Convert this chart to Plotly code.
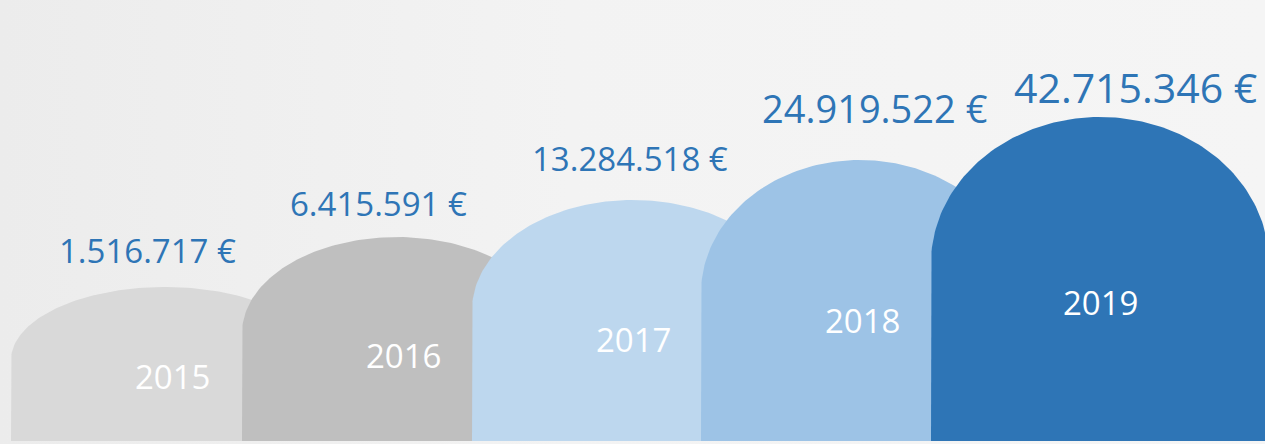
import numpy as np
import plotly.graph_objects as go

# data
years = ["2015", "2016", "2017", "2018", "2019"]
values = [1516717, 6415591, 13284518, 24919522, 42715346]

# look of each arch (pixel space, y grows downwards)
colors = ["#d9d9d9", "#bfbfbf", "#bdd7ee", "#9dc3e6", "#2e75b6"]
arch_left = [11, 242, 472, 701, 931]
arch_hw = [154, 155, 161, 159, 169]
arch_top = [287, 237, 200, 160, 117]
arch_vr = [73, 96, 110, 133, 146]
year_xy = [(172, 376), (403, 355), (633, 339), (862, 320), (1100, 302)]
value_xy = [(147, 250), (378, 203), (630, 158), (875, 108), (1135, 87)]
value_size = [33, 33, 33, 38, 41]
bottom = 441
blue = "#2e75b6"


def fmt(v):
    return f"{v:,}".replace(",", ".") + " €"


fig = go.Figure()

# soft background wash, a bit darker on the left
fig.add_trace(go.Scatter(x=[0, 1265, 1265, 0, 0], y=[0, 0, 444, 444, 0], fill="toself",
                         mode="lines", line=dict(width=0), hoverinfo="skip", showlegend=False,
                         fillgradient=dict(type="horizontal",
                                           colorscale=[[0, "#ececec"], [0.45, "#f3f3f3"], [1, "#f5f5f5"]])))

for i, yr in enumerate(years):
    left = arch_left[i]
    hw = arch_hw[i]
    cx = left + hw
    base = arch_top[i] + arch_vr[i]
    t = np.linspace(np.pi, 0, 120)
    xs = [left] + list(cx + hw * np.cos(t)) + [left + 2 * hw, left]
    ys = [bottom] + list(base - arch_vr[i] * np.sin(t)) + [bottom, bottom]
    fig.add_trace(go.Scatter(x=xs, y=ys, fill="toself", fillcolor=colors[i],
                             mode="lines", line=dict(width=0), hoverinfo="skip",
                             name=yr, showlegend=False))

    fig.add_annotation(x=year_xy[i][0], y=year_xy[i][1], text=yr, showarrow=False,
                       font=dict(family="Open Sans", size=33, color="white"))
    fig.add_annotation(x=value_xy[i][0], y=value_xy[i][1], text=fmt(values[i]),
                       showarrow=False,
                       font=dict(family="Open Sans", size=value_size[i], color=blue))

fig.update_xaxes(range=[0, 1265], visible=False, fixedrange=True)
fig.update_yaxes(range=[444, 0], visible=False, fixedrange=True)
fig.update_layout(width=1265, height=444, margin=dict(l=0, r=0, t=0, b=0),
                  paper_bgcolor="#f2f2f2", plot_bgcolor="#f2f2f2")

fig.write_html("out.html", config={"displayModeBar": False},
               post_script="document.body.style.margin='0';")
